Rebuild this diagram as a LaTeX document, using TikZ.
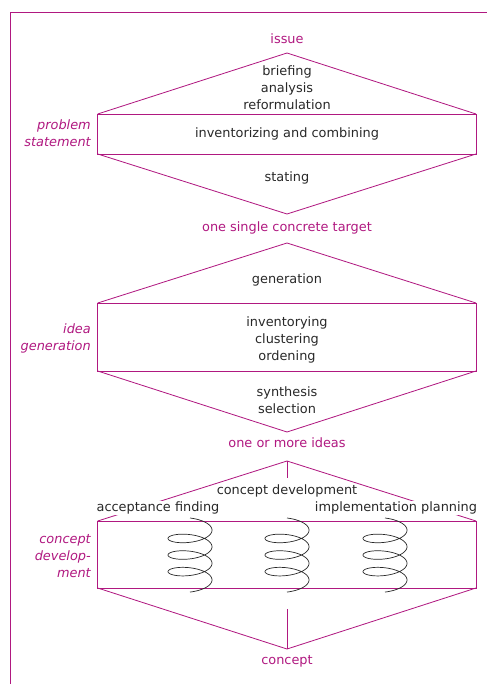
\documentclass[tikz,border=0pt]{standalone}
\usepackage{fontspec}
\setmainfont{DejaVu Sans}
\usetikzlibrary{positioning}
\definecolor{phase}{RGB}{176,24,128}
\definecolor{ink}{RGB}{40,40,40}

\begin{document}
\begin{tikzpicture}[x=0.03cm,y=-0.03cm,
	line/.style={draw=phase,line width=0.7pt},
	act/.style={text=ink,font=\fontsize{11}{14.5}\selectfont,align=center,inner sep=1pt},
	result/.style={text=phase,font=\fontsize{11}{14.5}\selectfont,inner sep=1pt},
	stage/.style={text=phase,font=\fontsize{11}{14.5}\selectfont\itshape,align=right,anchor=east,inner sep=0pt}]

	\useasboundingbox (0,0) rectangle (487,684);
	\draw[line] (487,12.7) -| (10,684);

	% problem statement
	\coordinate (top1) at (287,53);
	\coordinate (left1) at (97.7,114);
	\coordinate (right1) at (476,114);
	\coordinate (lleft1) at (97.7,154);
	\coordinate (lright1) at (476,154);
	\coordinate (bot1) at (287,214);
	\draw[line] (left1) -- (top1) -- (right1);
	\draw[line] (left1) rectangle (lright1);
	\draw[line] (lleft1) -- (bot1) -- (lright1);
	\node[result] (issue) at (287,39) {issue};
	\node[act] (briefing) at (287,88) {briefing\\analysis\\reformulation};
	\node[act] (combining) at (287,134) {inventorizing and combining};
	\node[act] (stating) at (287,178) {stating};
	\node[result] (target) at (287,228) {one single concrete target};
	\node[stage] (problem) at (91,133) {problem\\statement};

	% idea generation
	\coordinate (top2) at (287,243);
	\coordinate (left2) at (97.7,303);
	\coordinate (right2) at (476,303);
	\coordinate (lleft2) at (97.7,371);
	\coordinate (lright2) at (476,371);
	\coordinate (bot2) at (287,432);
	\draw[line] (left2) -- (top2) -- (right2);
	\draw[line] (left2) rectangle (lright2);
	\draw[line] (lleft2) -- (bot2) -- (lright2);
	\node[act] (generation) at (287,280) {generation};
	\node[act] (ordening) at (287,340) {inventorying\\clustering\\ordening};
	\node[act] (selection) at (287,400) {synthesis\\selection};
	\node[result] (ideas) at (287,443) {one or more ideas};
	\node[stage] (ideagen) at (91,338) {idea\\generation};

	% concept development
	\coordinate (top3) at (287,461);
	\coordinate (stub3) at (287,478);
	\coordinate (left3) at (97.7,521);
	\coordinate (right3) at (476,521);
	\coordinate (lleft3) at (97.7,588);
	\coordinate (lright3) at (476,588);
	\coordinate (stubb3) at (287,609);
	\coordinate (bot3) at (287,649);
	\draw[line] (left3) -- (top3) -- (right3);
	\draw[line] (top3) -- (stub3);
	\draw[line] (left3) rectangle (lright3);
	\draw[line] (lleft3) -- (bot3) -- (lright3);
	\draw[line] (stubb3) -- (bot3);
	\foreach \cx in {190,287,385}
		\draw[ink,line width=0.6pt] plot[domain=-90:1170,samples=220,smooth]
			({\cx+22*cos(\x)},{518+0.04608*(\x+90)+8*(sin(\x)+1)});
	\node[act] (development) at (287,491) {concept development};
	\node[act,fill=white] (acceptance) at (158,508) {acceptance finding};
	\node[act,fill=white] (planning) at (396,508) {implementation planning};
	\node[result] (concept) at (287,661) {concept};
	\node[stage] (conceptdev) at (91,556) {concept\\develop-\\ment};

\end{tikzpicture}
\end{document}
